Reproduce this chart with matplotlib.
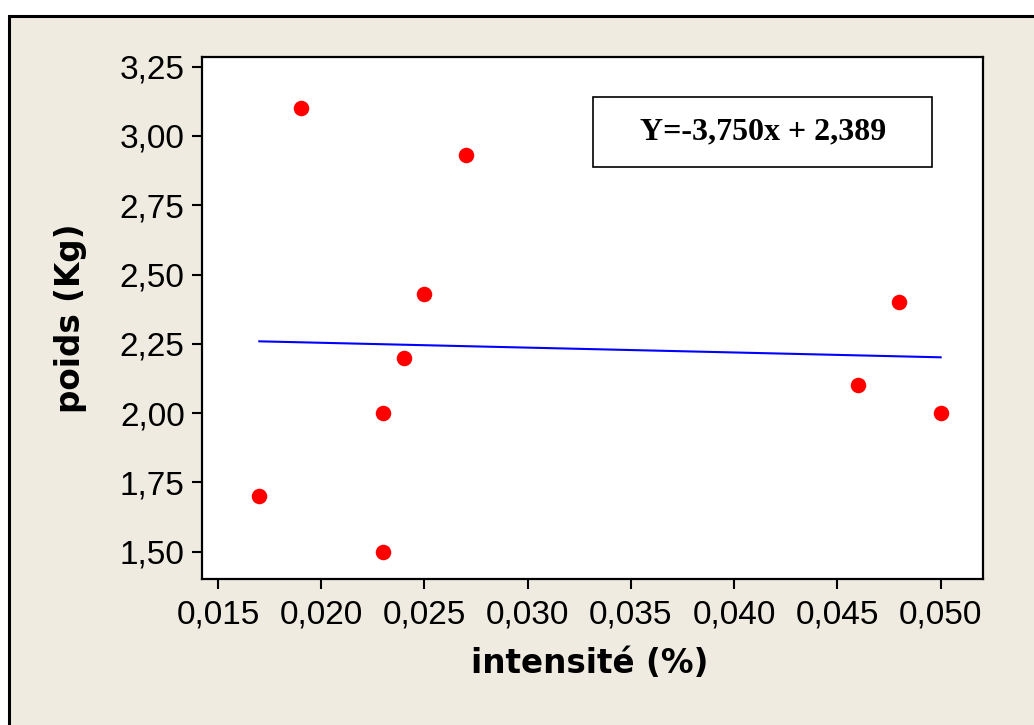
import numpy as np
import matplotlib.pyplot as plt
from matplotlib.patches import Rectangle

# données
intensite = [0.017, 0.019, 0.023, 0.023, 0.024, 0.025, 0.027, 0.046, 0.048, 0.050]
poids = [1.70, 3.10, 2.00, 1.50, 2.20, 2.43, 2.93, 2.10, 2.40, 2.00]
x_ticks = [0.015, 0.020, 0.025, 0.030, 0.035, 0.040, 0.045, 0.050]
y_ticks = [1.50, 1.75, 2.00, 2.25, 2.50, 2.75, 3.00, 3.25]
equation = "Y=-3,750x + 2,389"

bg = '#EFEBE1'

fig = plt.figure(figsize=(10.34, 7.25), dpi=100)
fig.patch.set_facecolor('white')
# cadre beige
fig.patches.append(Rectangle((9 / 1034, -0.05), 1.1, 1 - 16 / 725 + 0.05,
                             transform=fig.transFigure, facecolor=bg,
                             edgecolor='black', linewidth=2.2, zorder=-10))

ax = fig.add_axes([202 / 1034, 1 - 579 / 725, 781 / 1034, 522 / 725])
ax.set_facecolor('white')

ax.scatter(intensite, poids, s=125, color='#FF0000', zorder=3, linewidths=0)

# droite de régression
a, b = np.polyfit(intensite, poids, 1)
xs = np.array([min(intensite), max(intensite)])
ax.plot(xs, a * xs + b, color='#0000FF', lw=1.5, zorder=2)

ax.set_xlim(0.014225, 0.05205)
ax.set_ylim(1.4015, 3.285)
ax.set_xticks(x_ticks)
ax.set_yticks(y_ticks)
ax.set_xticklabels([f"{v:.3f}".replace('.', ',') for v in x_ticks])
ax.set_yticklabels([f"{v:.2f}".replace('.', ',') for v in y_ticks])

for s in ax.spines.values():
    s.set_linewidth(1.6)
ax.tick_params(direction='out', length=7.5, width=1.5, labelsize=24, pad=5)
ax.tick_params(axis='x', pad=7)
for lab in ax.get_xticklabels() + ax.get_yticklabels():
    lab.set_fontfamily('Liberation Sans')

ax.set_xlabel('intensité (%)', fontsize=23.5, fontweight='bold', family='DejaVu Sans')
ax.set_ylabel('poids (Kg)', fontsize=23.5, fontweight='bold', family='DejaVu Sans')
ax.xaxis.set_label_coords(0.497, -0.13)
ax.yaxis.set_label_coords(-0.147, 0.5)

ax.add_patch(Rectangle((0.5006, 0.789), 0.4341, 0.1344, transform=ax.transAxes,
                       facecolor='white', edgecolor='black', lw=1.2, zorder=4))
ax.text(0.7184, 0.8563, equation, transform=ax.transAxes, ha='center', va='center',
        fontsize=23, fontweight='bold', family='Liberation Serif', zorder=5)

fig.savefig('out.png', dpi=100, facecolor=fig.get_facecolor())
